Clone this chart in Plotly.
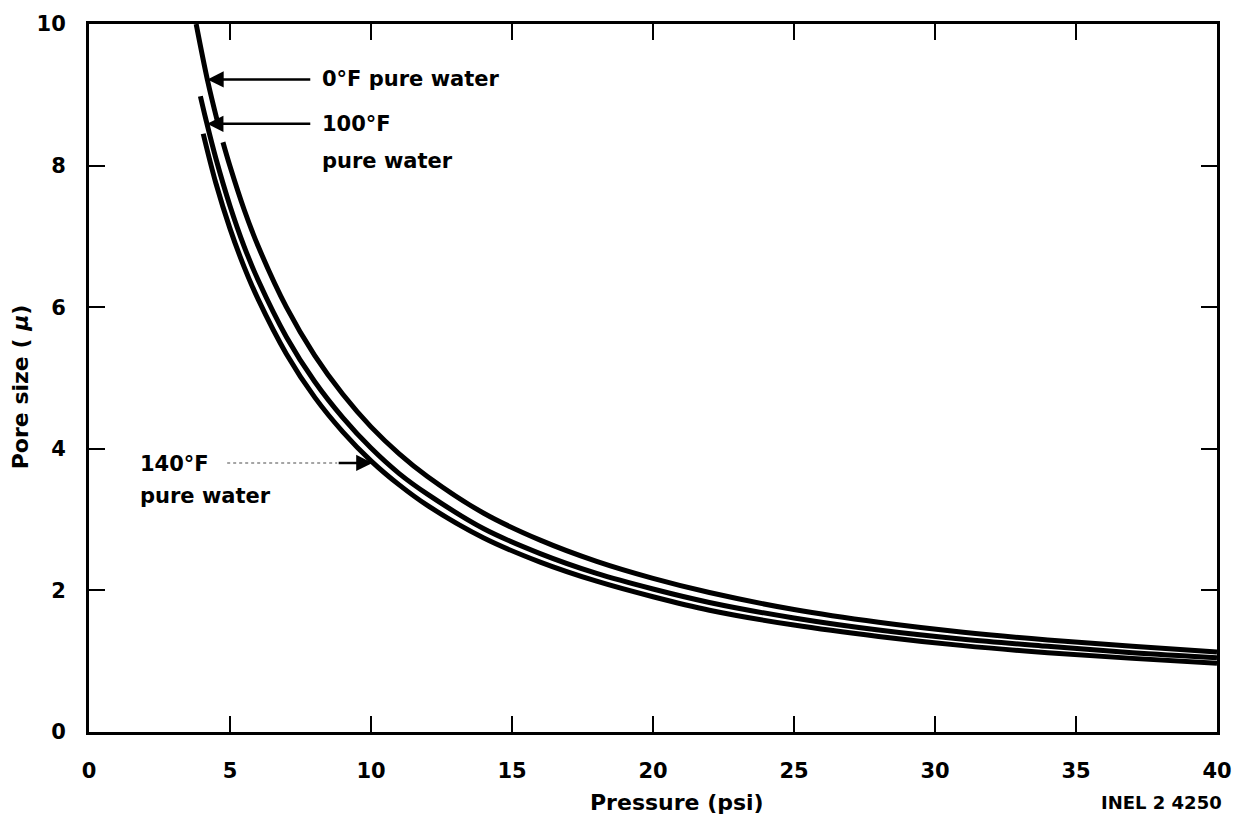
import plotly.graph_objects as go

# Pressure (psi) and pore size (micron)
p_0F = [3.8, 4.2, 4.55, None, 4.75, 5.0, 5.5, 6.0, 7.0, 8.0, 9.0, 10.0, 11.0, 12.0, 14.0, 16.0,
        18.0, 20.0, 22.0, 25.0, 28.0, 31.0, 34.0, 37.0, 40.0]
d_0F = [10.0, 9.21, 8.63, None, 8.33, 7.99, 7.38, 6.86, 6.0, 5.32, 4.77, 4.31, 3.93, 3.61, 3.09, 2.71,
        2.41, 2.17, 1.97, 1.73, 1.55, 1.41, 1.30, 1.21, 1.13]

p_100F = [3.95, 4.14, 4.5, 5.0, 5.5, 6.0, 7.0, 8.0, 9.0, 10.0, 11.0, 12.0, 14.0, 16.0,
          18.0, 20.0, 22.0, 25.0, 28.0, 31.0, 34.0, 37.0, 40.0]
d_100F = [8.98, 8.66, 8.1, 7.43, 6.86, 6.38, 5.58, 4.95, 4.44, 4.01, 3.65, 3.36, 2.87, 2.52,
          2.24, 2.02, 1.83, 1.61, 1.44, 1.31, 1.21, 1.12, 1.05]

p_140F = [4.05, 4.5, 5.0, 5.5, 6.0, 7.0, 8.0, 9.0, 10.0, 11.0, 12.0, 14.0, 16.0,
          18.0, 20.0, 22.0, 25.0, 28.0, 31.0, 34.0, 37.0, 40.0]
d_140F = [8.45, 7.75, 7.11, 6.57, 6.11, 5.34, 4.73, 4.24, 3.83, 3.49, 3.20, 2.74, 2.40,
          2.13, 1.91, 1.72, 1.51, 1.35, 1.22, 1.12, 1.04, 0.97]

x_ticks = [0, 5, 10, 15, 20, 25, 30, 35, 40]
y_ticks = [0, 2, 4, 6, 8, 10]

FONT = "DejaVu Sans, Arial, sans-serif"

fig = go.Figure()
for px_, py_ in [(p_0F, d_0F), (p_100F, d_100F), (p_140F, d_140F)]:
    fig.add_trace(go.Scatter(x=px_, y=py_, mode="lines",
                             line=dict(color="black", width=5, shape="spline", smoothing=1.0),
                             connectgaps=False, showlegend=False, hoverinfo="skip"))

axis_common = dict(showline=True, linecolor="black", linewidth=3, mirror="ticks",
                   ticks="inside", ticklen=16, tickwidth=2, tickcolor="black",
                   showgrid=False, zeroline=False,
                   tickfont=dict(family=FONT, size=21, color="black", weight="bold"))

fig.update_xaxes(range=[0, 40], tickvals=x_ticks, ticktext=[str(v) for v in x_ticks],
                 ticklabelstandoff=18, **axis_common)
fig.update_yaxes(range=[0, 10], tickvals=y_ticks, ticktext=[str(v) for v in y_ticks],
                 ticklabelstandoff=16, **axis_common)

lab_font = dict(family=FONT, size=21, color="black", weight="bold")
arrow = dict(text="", showarrow=True, arrowhead=2, arrowsize=1.3, arrowwidth=2.5,
             arrowcolor="black", xref="x", yref="y", axref="x", ayref="y")
ann = []
# 0°F
ann.append(dict(x=8.2, y=9.217, xref="x", yref="y", text="0°F pure water", showarrow=False,
                xanchor="left", yanchor="middle", font=lab_font))
ann.append(dict(x=4.2, y=9.217, ax=7.9, ay=9.217, **arrow))
# 100°F
ann.append(dict(x=8.2, y=8.59, xref="x", yref="y", text="100°F", showarrow=False,
                xanchor="left", yanchor="middle", font=lab_font))
ann.append(dict(x=8.2, y=8.07, xref="x", yref="y", text="pure water", showarrow=False,
                xanchor="left", yanchor="middle", font=lab_font))
ann.append(dict(x=4.19, y=8.59, ax=7.9, ay=8.59, **arrow))
# 140°F
ann.append(dict(x=1.73, y=3.78, xref="x", yref="y", text="140°F", showarrow=False,
                xanchor="left", yanchor="middle", font=lab_font))
ann.append(dict(x=1.73, y=3.34, xref="x", yref="y", text="pure water", showarrow=False,
                xanchor="left", yanchor="middle", font=lab_font))
ann.append(dict(x=10.05, y=3.80, ax=8.8, ay=3.80, **arrow))
# axis titles and code
ann.append(dict(x=0.5216, y=-0.0993, xref="paper", yref="paper", text="Pressure (psi)",
                showarrow=False, xanchor="center", yanchor="middle",
                font=dict(family=FONT, size=22, color="black", weight="bold")))
ann.append(dict(x=0.9506, y=-0.0993, xref="paper", yref="paper", text="INEL 2 4250",
                showarrow=False, xanchor="center", yanchor="middle",
                font=dict(family=FONT, size=18, color="black", weight="bold")))
ann.append(dict(x=-0.0605, y=0.488, xref="paper", yref="paper", text="Pore size ( <i>µ</i>)",
                showarrow=False, xanchor="center", yanchor="middle", textangle=-90,
                font=dict(family=FONT, size=22, color="black", weight="bold")))

shapes = [dict(type="line", xref="x", yref="y", x0=4.9, x1=8.8, y0=3.80, y1=3.80,
               line=dict(color="#888888", width=1.5, dash="dot"))]

fig.update_layout(width=1244, height=817, margin=dict(l=89, r=22, t=17, b=85),
                  paper_bgcolor="white", plot_bgcolor="white",
                  annotations=ann, shapes=shapes)

fig.write_html("out.html")
